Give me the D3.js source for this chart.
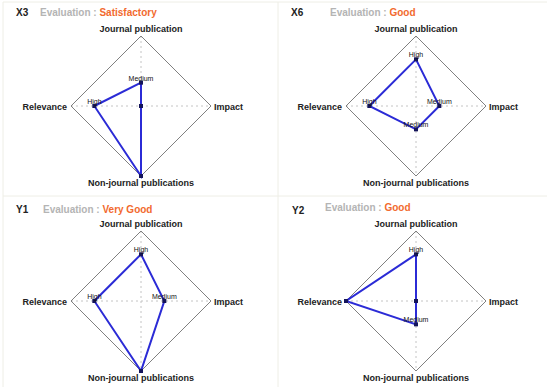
<!DOCTYPE html>
<html><head><meta charset="utf-8">
<script src="https://cdn.jsdelivr.net/npm/d3@7"></script>
<style>body{margin:0;background:#fff}svg{display:block}text{font-family:"Liberation Sans",Arial,sans-serif}</style>
</head><body>
<svg id="c" width="549" height="389"></svg>
<script>
const panelIds = ["X3","X6","Y1","Y2"];
const evaluations = ["Satisfactory","Good","Very Good","Good"];
const axisNames = ["Journal publication","Impact","Non-journal publications","Relevance"];
const levelNames = ["","Medium","High",""];
const valuesX3 = [1,0,3,2];
const valuesX6 = [2,1,1,2];
const valuesY1 = [2,1,3,2];
const valuesY2 = [2,0,1,3];
const allValues = [valuesX3,valuesX6,valuesY1,valuesY2];

const svg = d3.select("#c");
// panel borders
const bc = "#eeeee6";
svg.append("line").attr("x1",3).attr("x2",3).attr("y1",2).attr("y2",387).attr("stroke",bc);
svg.append("line").attr("x1",3).attr("x2",547).attr("y1",2).attr("y2",2).attr("stroke",bc);
svg.append("line").attr("x1",278).attr("x2",278).attr("y1",2).attr("y2",387).attr("stroke",bc);
svg.append("line").attr("x1",3).attr("x2",547).attr("y1",196).attr("y2",196).attr("stroke",bc);

const R = 70;
const r = d3.scaleLinear().domain([0,3]).range([0,R]);
const centers = [[141,106],[416,106],[141,301],[416,301]];
const titleX = [16,291,16,292];
const titleY = [16,16,213,214];
const evalX = [40,330,43,325];
const evalY = [16,16,213,211];
const angles = [-Math.PI/2, 0, Math.PI/2, Math.PI];

allValues.forEach((vals,i)=>{
  const [cx,cy] = centers[i];
  const g = svg.append("g").attr("transform",`translate(${cx},${cy})`);
  const pt = (v,k)=>[r(v)*Math.cos(angles[k]), r(v)*Math.sin(angles[k])];
  // axis dashed lines
  g.append("line").attr("x1",-R).attr("x2",R).attr("y1",0).attr("y2",0)
    .attr("stroke","#c4c4c4").attr("stroke-dasharray","2,3");
  g.append("line").attr("x1",0).attr("x2",0).attr("y1",-R).attr("y2",R)
    .attr("stroke","#c4c4c4").attr("stroke-dasharray","2,3");
  // outer diamond
  g.append("path").attr("d", d3.line()(angles.map((a,k)=>pt(3,k)))+"Z")
    .attr("fill","none").attr("stroke","#808080").attr("stroke-width",1);
  // data polygon
  const pts = vals.map((v,k)=>pt(v,k));
  g.append("path").attr("d", d3.line()(pts)+"Z")
    .attr("fill","none").attr("stroke","#2b2bd6").attr("stroke-width",2).attr("stroke-linejoin","miter");
  g.selectAll("rect.dot").data(pts).enter().append("rect")
    .attr("x",d=>d[0]-2).attr("y",d=>d[1]-2).attr("width",4).attr("height",4).attr("fill","#14145a");
  g.selectAll("text.lv").data(vals.map((v,k)=>({v,p:pts[k]}))).enter().append("text")
    .attr("x",d=>d.p[0]).attr("y",d=>d.p[1]-2).attr("text-anchor","middle")
    .attr("font-size","7px").attr("fill","#111").text(d=>levelNames[d.v]);
  // axis labels
  const lab = g.append("g").attr("font-size","9px").attr("font-weight","bold").attr("fill","#222");
  lab.append("text").attr("x",0).attr("y",-R-4).attr("text-anchor","middle").text(axisNames[0]);
  lab.append("text").attr("x",R+3).attr("y",3.5).attr("text-anchor","start").text(axisNames[1]);
  lab.append("text").attr("x",0).attr("y",R+10).attr("text-anchor","middle").text(axisNames[2]);
  lab.append("text").attr("x",-R-4).attr("y",3.5).attr("text-anchor","end").text(axisNames[3]);
  // titles
  svg.append("text").attr("x",titleX[i]).attr("y",titleY[i]).attr("font-size","10px")
    .attr("font-weight","bold").attr("fill","#222").text(panelIds[i]);
  const t = svg.append("text").attr("x",evalX[i]).attr("y",evalY[i]).attr("font-size","10px").attr("font-weight","bold");
  t.append("tspan").attr("fill","#b4b4b4").text("Evaluation : ");
  t.append("tspan").attr("fill","#f26a2e").text(evaluations[i]);
});
</script>
</body></html>
